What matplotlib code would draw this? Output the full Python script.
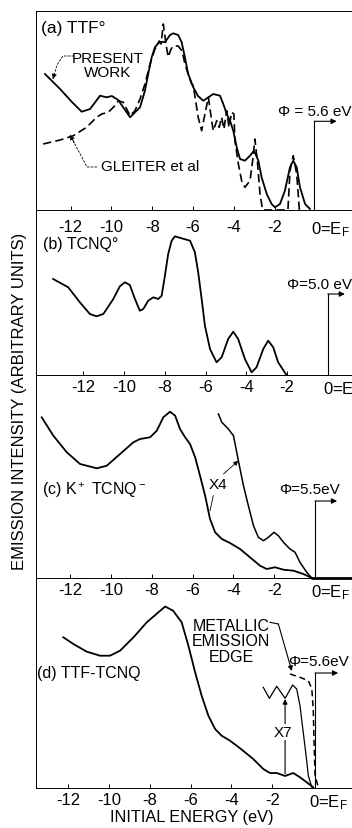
import matplotlib
matplotlib.use('Agg')
import matplotlib.pyplot as plt
from matplotlib.transforms import offset_copy

plt.rcParams['font.family'] = ['Liberation Sans', 'DejaVu Sans']
plt.rcParams['mathtext.fontset'] = 'custom'
plt.rcParams['mathtext.rm'] = 'Liberation Sans'
plt.rcParams['mathtext.it'] = 'Liberation Sans:italic'
plt.rcParams['mathtext.bf'] = 'Liberation Sans:bold'

# ---------------- data (initial energy in eV, intensity in arbitrary units) -------------
tick_values = [-12, -10, -8, -6, -4, -2, 0]
tick_labels = ['-12', '-10', '-8', '-6', '-4', '-2', '0=E$_\\mathrm{F}$']

panel_titles = ['(a) TTF°', '(b) TCNQ°', '(c) K$^+$ TCNQ$^-$', '(d) TTF-TCNQ']
phi_labels = ['Φ = 5.6 eV', 'Φ=5.0 eV', 'Φ=5.5eV', 'Φ=5.6eV']

# (a) TTF
a_present_e = [-13.26, -12.52, -11.94, -11.46, -11.05, -10.56, -10.24, -9.98, -9.67, -9.09,
               -8.60, -8.36, -8.20, -8.03, -7.87, -7.71, -7.57, -7.38, -7.13, -6.97,
               -6.73, -6.56, -6.40, -6.24, -5.99, -5.76, -5.50, -5.25, -5.01, -4.68,
               -4.52, -4.35, -4.19, -4.03, -3.86, -3.70, -3.46, -3.21, -3.01, -2.80,
               -2.64, -2.39, -2.15, -1.99, -1.74, -1.50, -1.25, -1.09, -0.92, -0.76,
               -0.51, -0.27]
a_present_i = [13.6, 12.1, 10.8, 9.83, 10.1, 11.43, 11.27, 11.4, 11.0, 9.27,
               10.27, 11.93, 13.6, 15.27, 16.27, 16.67, 16.83, 16.77, 17.5, 17.67,
               17.5, 16.77, 15.27, 13.6, 12.27, 11.4, 10.93, 11.27, 11.6, 11.43,
               10.6, 9.6, 8.93, 7.93, 6.27, 5.1, 4.93, 5.43, 5.93, 4.93,
               3.27, 1.6, 0.6, 0.27, 0.6, 1.93, 4.27, 4.93, 4.27, 2.27,
               0.6, 0.1]
a_gleiter_e = [-13.35, -12.52, -11.87, -11.22, -10.73, -10.48, -10.16, -9.83, -9.67, -9.42,
               -9.09, -8.85, -8.60, -8.36, -8.11, -7.87, -7.66, -7.57, -7.46, -7.33,
               -7.22, -7.08, -6.97, -6.73, -6.54, -6.40, -6.24, -6.07, -5.99, -5.75,
               -5.58, -5.42, -5.25, -5.09, -5.01, -4.84, -4.72, -4.60, -4.49, -4.35,
               -4.24, -4.11, -4.00, -3.95, -3.78, -3.62, -3.46, -3.21, -3.08, -2.97,
               -2.85, -2.72, -2.59, -1.35, -1.25, -1.09, -0.92, -0.79]
a_gleiter_i = [6.6, 7.0, 7.43, 8.27, 9.27, 9.6, 9.77, 10.43, 10.93, 10.77,
               9.43, 9.93, 11.1, 12.6, 14.6, 16.1, 16.9, 16.6, 18.6, 16.6,
               15.3, 16.1, 16.4, 16.4, 15.9, 14.6, 13.6, 12.6, 12.43, 9.27,
               7.93, 9.6, 11.27, 8.93, 7.93, 8.93, 8.27, 9.27, 8.1, 9.93,
               8.27, 9.77, 9.6, 6.93, 4.6, 2.93, 2.27, 2.93, 4.93, 7.1,
               4.93, 1.6, 0.0, 0.0, 3.93, 5.43, 3.6, 0.0]

# (b) TCNQ
b_e = [-13.47, -12.73, -12.16, -11.67, -11.34, -11.01, -10.52, -10.20, -9.95, -9.71,
       -9.46, -9.22, -9.05, -8.81, -8.56, -8.32, -8.15, -7.99, -7.83, -7.66,
       -7.50, -7.17, -6.76, -6.52, -6.36, -6.19, -6.03, -5.78, -5.46, -5.21,
       -4.89, -4.64, -4.40, -4.07, -3.74, -3.50, -3.17, -2.93, -2.68, -2.44, -2.05]
b_i = [9.6, 8.77, 7.27, 6.1, 5.87, 6.1, 7.6, 8.87, 9.27, 9.0,
       7.6, 6.43, 6.6, 7.43, 7.77, 7.6, 7.93, 9.93, 12.1, 13.43,
       13.87, 13.67, 13.43, 12.27, 10.27, 7.6, 4.93, 2.6, 1.27, 1.77,
       3.6, 4.33, 3.6, 1.6, 0.27, 0.77, 2.6, 3.43, 2.77, 1.27, 0.05]

# (c) K+ TCNQ-
c_main_e = [-13.40, -12.83, -12.17, -11.52, -10.70, -10.21, -9.56, -8.91, -8.58, -8.09,
            -7.76, -7.44, -7.11, -6.86, -6.62, -6.37, -6.13, -5.88, -5.64, -5.39,
            -5.15, -4.90, -4.57, -4.17, -3.68, -3.19, -2.70, -2.37, -1.96, -1.55,
            -1.06, -0.57, -0.16]
c_main_i = [16.1, 14.26, 12.6, 11.43, 11.0, 11.26, 12.43, 13.6, 13.93, 14.1,
            14.76, 16.1, 16.66, 16.26, 14.93, 14.1, 13.43, 12.1, 10.26, 8.26,
            5.93, 4.6, 3.93, 3.53, 2.93, 2.1, 1.26, 0.93, 1.1, 0.86,
            0.76, 0.43, 0.03]
c_x4_e = [-4.74, -4.57, -4.25, -4.00, -3.76, -3.51, -3.27, -3.02, -2.78, -2.53,
          -2.29, -2.01, -1.80, -1.55, -1.23, -0.98, -0.74, -0.41, -0.16]
c_x4_i = [16.43, 15.6, 14.93, 14.26, 11.76, 9.26, 7.26, 5.26, 4.1, 3.76,
          4.1, 4.6, 4.26, 3.6, 2.93, 2.6, 1.6, 0.6, 0.03]

# (d) TTF-TCNQ
d_main_e = [-12.24, -11.75, -11.09, -10.44, -9.95, -9.46, -8.80, -8.15, -7.58, -7.25,
            -6.86, -6.44, -6.11, -5.78, -5.46, -5.13, -4.80, -4.48, -4.07, -3.74,
            -3.43, -2.93, -2.44, -2.11, -1.78, -1.37, -0.97, -0.64, -0.31, 0.01]
d_main_i = [15.1, 14.43, 13.66, 13.26, 13.26, 13.76, 15.1, 16.6, 17.6, 18.18,
            17.76, 16.6, 14.26, 11.6, 9.26, 7.26, 5.93, 5.26, 4.76, 4.26,
            3.76, 2.93, 1.93, 1.53, 1.53, 1.23, 1.53, 1.1, 0.6, 0.1]
d_x7_e = [-2.44, -2.14, -1.78, -1.37, -1.00, -0.80, -0.64, -0.48, -0.34, -0.23, -0.06]
d_x7_i = [10.1, 9.0, 10.2, 9.0, 10.33, 9.93, 8.26, 5.6, 3.26, 1.26, 0.1]
d_edge_e = [-1.13, -0.64, -0.23, -0.06, 0.01, 0.05, 0.10, 0.26]
d_edge_i = [11.43, 11.1, 10.76, 9.93, 7.93, 4.6, 1.26, 0.1]

# ---------------- layout ----------------
W, H = 352, 829
fig = plt.figure(figsize=(W / 100, H / 100), dpi=100)


def px_axes(left, top, right, bottom):
    return fig.add_axes([left / W, 1 - bottom / H, (right - left) / W, (bottom - top) / H])


# (top px, bottom px, xlim, ylim top, show top spine, label pad px)
panels = [
    (12, 211, (-13.70, 1.79), 19.9, True, 9),
    (211, 376, (-14.31, 1.18), 16.5, False, 4),
    (376, 579.3, (-13.68, 1.81), 20.33, False, 4),
    (579.3, 789.3, (-13.58, 1.91), 21.0, False, 4),
]

axes = []
for (top, bot, xl, yt, topsp, padpx) in panels:
    ax = px_axes(36, top, 352, bot)
    ax.set_xlim(*xl)
    ax.set_ylim(0, yt)
    ax.patch.set_alpha(0)
    for s in ['right']:
        ax.spines[s].set_visible(False)
    ax.spines['top'].set_visible(topsp)
    for s in ['left', 'bottom', 'top']:
        ax.spines[s].set_linewidth(0.7)
    ax.set_yticks([])
    ax.set_xticks(tick_values[:-1], tick_labels[:-1])
    ax.tick_params(axis='x', direction='in', length=3, width=0.7,
                   pad=padpx * 0.72, labelsize=12)
    trans = offset_copy(ax.get_xaxis_transform(), fig=fig, x=-4.5, y=-padpx, units='dots')
    ax.text(tick_values[-1], 0, tick_labels[-1], transform=trans, ha='left', va='top',
            fontsize=12, clip_on=False)
    axes.append(ax)

lw_main = 1.3
dash = (5, 2.5)


def phi_arrow(ax, x0, yh, x1):
    ax.plot([x0, x0], [0, yh], color='k', lw=0.8, clip_on=False)
    ax.annotate('', xy=(x1, yh), xytext=(x0, yh),
                arrowprops=dict(arrowstyle='-|>', lw=0.8, color='k', mutation_scale=8,
                                shrinkA=0, shrinkB=0))


def leader(ax, xs, ys, dashed=True):
    ax.plot(xs, ys, color='k', lw=0.6, ls=(0, (3, 1.5)) if dashed else '-')
    ax.annotate('', xy=(xs[-1], ys[-1]),
                xytext=(xs[-1] + (xs[-2] - xs[-1]) * 0.25, ys[-1] + (ys[-2] - ys[-1]) * 0.25),
                arrowprops=dict(arrowstyle='-|>', lw=0.6, color='k', mutation_scale=7,
                                shrinkA=0, shrinkB=0))


# ---- (a)
ax = axes[0]
ax.plot(a_present_e, a_present_i, color='k', lw=lw_main, solid_joinstyle='round')
ax.plot(a_gleiter_e, a_gleiter_i, color='k', lw=1.2, dashes=dash)
ax.text(-13.46, 18.2, panel_titles[0], fontsize=12.5, ha='left', va='center')
ax.text(-10.17, 14.5, 'PRESENT\nWORK', fontsize=11, ha='center', va='center',
        linespacing=0.95)
ax.text(-8.11, 4.4, 'GLEITER et al', fontsize=11, ha='center', va='center')
leader(ax, [-11.84, -12.38, -12.67, -12.87], [15.4, 15.4, 14.5, 13.1])
leader(ax, [-10.71, -11.2, -12.03], [4.3, 4.3, 7.5])
ax.text(-0.02, 9.93, phi_labels[0], fontsize=11, ha='center', va='center')
phi_arrow(ax, -0.06, 8.87, 1.04)

# ---- (b)
ax = axes[1]
ax.plot(b_e, b_i, color='k', lw=lw_main, solid_joinstyle='round')
ax.text(-13.97, 13.1, panel_titles[1], fontsize=11.5, ha='left', va='center')
ax.text(-0.42, 9.1, phi_labels[1], fontsize=11, ha='center', va='center')
phi_arrow(ax, -0.01, 8.1, 0.83)

# ---- (c)
ax = axes[2]
ax.plot(c_main_e, c_main_i, color='k', lw=lw_main, solid_joinstyle='round')
ax.plot(c_x4_e, c_x4_i, color='k', lw=1.1, solid_joinstyle='round')
ax.plot([-0.2, 1.81], [0, 0], color='k', lw=2.0, solid_capstyle='butt', clip_on=False)
ax.text(-13.38, 8.93, panel_titles[2], fontsize=11.5, ha='left', va='center')
ax.text(-4.75, 9.43, 'X4', fontsize=11, ha='center', va='center')
ax.plot([-4.99, -5.15], [8.26, 6.76], color='k', lw=0.6)
ax.annotate('', xy=(-3.76, 11.76), xytext=(-4.49, 10.43),
            arrowprops=dict(arrowstyle='-|>', lw=0.6, color='k', mutation_scale=7,
                            shrinkA=0, shrinkB=0))
ax.text(-0.25, 8.93, phi_labels[2], fontsize=11, ha='center', va='center')
phi_arrow(ax, 0.0, 7.73, 1.08)

# ---- (d)
ax = axes[3]
ax.plot(d_main_e, d_main_i, color='k', lw=lw_main, solid_joinstyle='round')
ax.plot(d_x7_e, d_x7_i, color='k', lw=0.9, solid_joinstyle='round')
ax.plot(d_edge_e, d_edge_i, color='k', lw=1.1, dashes=(4, 2.5))
ax.text(-13.54, 11.53, panel_titles[3], fontsize=11.5, ha='left', va='center')
ax.text(-4.02, 14.73, 'METALLIC\nEMISSION\nEDGE', fontsize=11.5, ha='center',
        va='center', linespacing=1.05)
ax.plot([-2.11, -1.70], [16.6, 16.43], color='k', lw=0.8)
ax.annotate('', xy=(-1.04, 11.73), xytext=(-1.70, 16.43),
            arrowprops=dict(arrowstyle='-|>', lw=0.8, color='k', mutation_scale=7,
                            shrinkA=0, shrinkB=0))
ax.annotate('', xy=(-1.37, 8.93), xytext=(-1.37, 1.43),
            arrowprops=dict(arrowstyle='-|>', lw=0.8, color='k', mutation_scale=7,
                            shrinkA=0, shrinkB=0))
ax.text(-1.47, 5.63, 'X7', fontsize=11, ha='center', va='center',
        bbox=dict(fc='white', ec='none', pad=0.5))
ax.text(0.29, 12.73, phi_labels[3], fontsize=11, ha='center', va='center')
phi_arrow(ax, 0.1, 11.53, 1.23)

# ---- axis titles
fig.text(20 / W, 1 - 401.5 / H, 'EMISSION INTENSITY (ARBITRARY UNITS)', rotation=90,
         ha='center', va='center', fontsize=12)
fig.text(191.5 / W, 1 - 818 / H, 'INITIAL ENERGY (eV)', ha='center', va='center',
         fontsize=11.7)

fig.savefig('out.png', dpi=100)
